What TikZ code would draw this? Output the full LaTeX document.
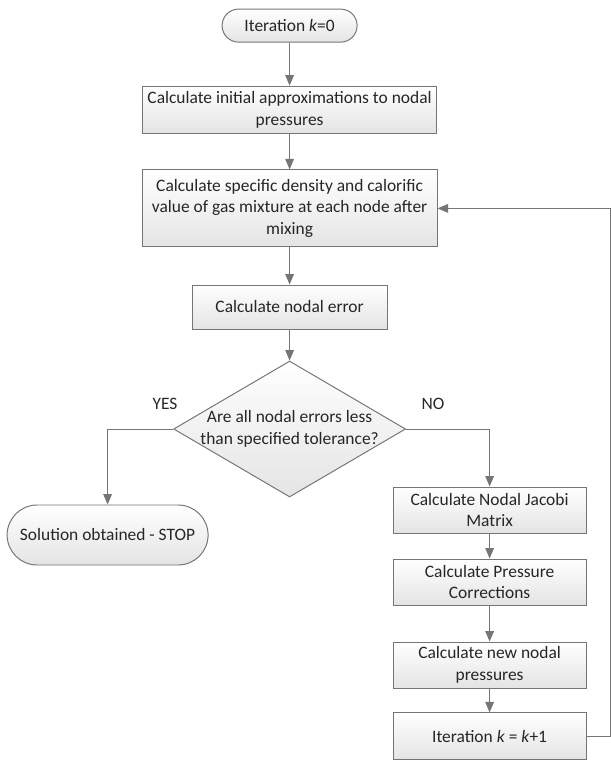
\documentclass[tikz,border=0pt]{standalone}
\usepackage{fontspec}
\setmainfont{Carlito}
\usetikzlibrary{shapes.geometric, arrows}

\definecolor{linegray}{HTML}{757575}
\definecolor{shadegray}{HTML}{E4E4E4}
\definecolor{inkgray}{HTML}{262626}

\begin{document}
\begin{tikzpicture}[->, >=triangle 45, line width=0.7pt, color=linegray, sharp corners,
    every node/.style={text=inkgray, font=\fontsize{12.4}{15.3}\selectfont, inner sep=0pt, align=center},
    process/.style={rectangle, draw=linegray, top color=white, bottom color=shadegray, minimum height=1.15cm},
    terminal/.style={rectangle, rounded corners=#1, draw=linegray, top color=white, bottom color=shadegray},
    decision/.style={diamond, aspect=1.7, inner sep=-0.12cm, draw=linegray, top color=white, bottom color=shadegray,
        minimum width=5.8cm, minimum height=3.4cm}]
    \useasboundingbox (0,0) rectangle (15.275,-19.025);

    \node[terminal=0.41cm, minimum width=3.375cm, minimum height=0.825cm] (start) at (7.24,-0.64) {Iteration \textit{k}=0};
    \node[process, minimum width=7.35cm, minimum height=1.175cm] (init) at (7.24,-2.74) {Calculate initial approximations to nodal\\pressures};
    \node[process, minimum width=7.375cm, minimum height=1.925cm] (mix) at (7.24,-5.21) {Calculate specific density and calorific\\value of gas mixture at each node after\\mixing};
    \node[process, minimum width=4.875cm, minimum height=1.1cm] (err) at (7.24,-7.675) {Calculate nodal error};
    \node[decision] (check) at (7.24,-10.725) {Are all nodal errors less\\than specified tolerance?};
    \node[terminal=0.75cm, minimum width=5.025cm, minimum height=1.5cm] (stop) at (2.69,-13.375) {Solution obtained - STOP};
    \node[process, minimum width=4.825cm] (jacobi) at (12.24,-12.75) {Calculate Nodal Jacobi\\Matrix};
    \node[process, minimum width=4.825cm] (corr) at (12.24,-14.55) {Calculate Pressure\\Corrections};
    \node[process, minimum width=4.825cm] (newp) at (12.24,-16.625) {Calculate new nodal\\pressures};
    \node[process, minimum width=4.825cm, minimum height=1.175cm] (iter) at (12.24,-18.41) {Iteration \textit{k} = \textit{k}+1};
    \node (yes) at (4.125,-10.1) {YES};
    \node (no) at (10.825,-10.1) {NO};
    \coordinate (back) at (15.25,-5.21);

    \draw (start) -- (init);
    \draw (init) -- (mix);
    \draw (mix) -- (err);
    \draw (err) -- (check);
    \draw (check.west) -| (stop.north);
    \draw (check.east) -| (jacobi.north);
    \draw (jacobi) -- (corr);
    \draw (corr) -- (newp);
    \draw (newp) -- (iter);
    \draw (iter.east) -| (back) -- (mix.east);
\end{tikzpicture}
\end{document}
